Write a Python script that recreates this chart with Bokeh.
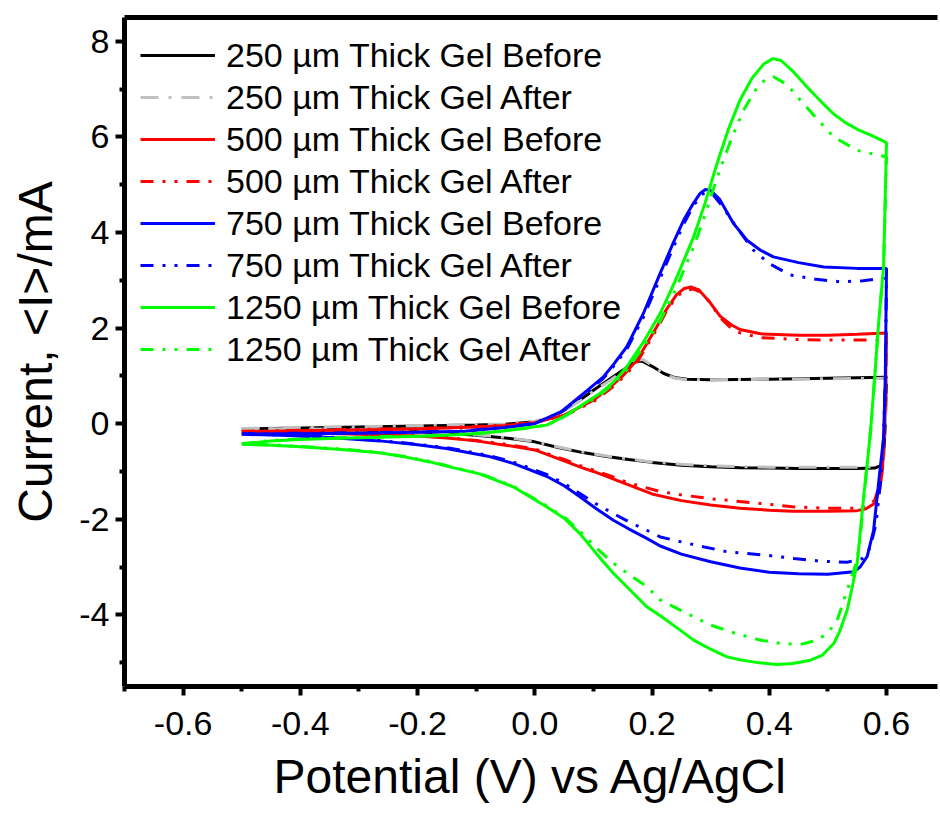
from bokeh.plotting import figure
from bokeh.models import Range1d, FixedTicker, LinearAxis, Legend, LegendItem, PrintfTickFormatter
from bokeh.embed import file_html
from bokeh.resources import INLINE

# ---------------- data ----------------
labels = ["250 µm Thick Gel Before", "250 µm Thick Gel After",
          "500 µm Thick Gel Before", "500 µm Thick Gel After",
          "750 µm Thick Gel Before", "750 µm Thick Gel After",
          "1250 µm Thick Gel Before", "1250 µm Thick Gel After"]

v_250_before = [-0.50, -0.40, -0.30, -0.20, -0.10, -0.05, 0.00, 0.03, 0.05, 0.08, 0.10, 0.13, 0.15, 0.165, 0.175, 0.185,
                0.20, 0.22, 0.24, 0.26, 0.30, 0.40, 0.50, 0.60,
                0.598, 0.595, 0.590, 0.580, 0.55, 0.50, 0.45, 0.40, 0.35, 0.30, 0.25, 0.20, 0.16, 0.12, 0.08, 0.04,
                0.00, -0.05, -0.10, -0.15, -0.20, -0.30, -0.40, -0.50]
i_250_before = [-0.11, -0.09, -0.07, -0.05, -0.03, -0.01, 0.04, 0.14, 0.28, 0.52, 0.70, 0.95, 1.12, 1.25, 1.31, 1.30,
                1.20, 1.05, 0.96, 0.93, 0.92, 0.93, 0.95, 0.97,
                0.00, -0.70, -0.88, -0.93, -0.94, -0.94, -0.94, -0.93, -0.92, -0.90, -0.87, -0.81, -0.75, -0.68, -0.60, -0.50,
                -0.38, -0.30, -0.24, -0.20, -0.17, -0.14, -0.12, -0.11]

v_250_after = v_250_before
i_250_after = [-0.10, -0.08, -0.06, -0.04, -0.02, 0.00, 0.05, 0.14, 0.27, 0.50, 0.68, 0.92, 1.10, 1.26, 1.34, 1.34,
               1.22, 1.04, 0.95, 0.92, 0.92, 0.93, 0.94, 0.95,
               0.00, -0.70, -0.86, -0.90, -0.91, -0.91, -0.91, -0.91, -0.90, -0.88, -0.85, -0.80, -0.74, -0.67, -0.59, -0.49,
               -0.37, -0.29, -0.23, -0.19, -0.16, -0.13, -0.11, -0.10]

v_500_before = [-0.50, -0.40, -0.30, -0.20, -0.10, -0.05, 0.00, 0.05, 0.10, 0.13, 0.15, 0.174, 0.19, 0.208, 0.225, 0.242,
                0.255, 0.266, 0.28, 0.30, 0.316, 0.335, 0.35, 0.385, 0.45, 0.50, 0.55, 0.60,
                0.598, 0.595, 0.593, 0.588, 0.578, 0.565, 0.55, 0.50, 0.44, 0.40, 0.35, 0.30, 0.25, 0.20, 0.16, 0.13,
                0.10, 0.08, 0.05, 0.00, -0.05, -0.10, -0.15, -0.20, -0.30, -0.40, -0.50]
i_500_before = [-0.17, -0.15, -0.13, -0.11, -0.07, -0.04, 0.02, 0.18, 0.49, 0.78, 1.00, 1.33, 1.65, 2.03, 2.40, 2.70,
                2.83, 2.86, 2.80, 2.52, 2.25, 2.07, 1.97, 1.88, 1.85, 1.85, 1.87, 1.90,
                0.50, -0.50, -0.97, -1.40, -1.68, -1.78, -1.82, -1.83, -1.83, -1.81, -1.77, -1.70, -1.61, -1.47, -1.28, -1.14,
                -1.00, -0.92, -0.78, -0.55, -0.45, -0.36, -0.30, -0.26, -0.22, -0.19, -0.17]

v_500_after = [-0.50, -0.40, -0.30, -0.20, -0.10, -0.05, 0.00, 0.05, 0.10, 0.13, 0.15, 0.174, 0.19, 0.208, 0.225, 0.242,
               0.255, 0.27, 0.285, 0.30, 0.316, 0.335, 0.35, 0.385, 0.45, 0.50, 0.55, 0.60,
               0.598, 0.595, 0.590, 0.580, 0.565, 0.55, 0.50, 0.44, 0.385, 0.35, 0.30, 0.25, 0.214, 0.16, 0.13, 0.10,
               0.08, 0.05, 0.00, -0.05, -0.10, -0.15, -0.20, -0.30, -0.40, -0.50]
i_500_after = [-0.16, -0.14, -0.12, -0.10, -0.06, -0.03, 0.03, 0.17, 0.46, 0.74, 0.96, 1.28, 1.60, 1.98, 2.36, 2.66,
               2.78, 2.82, 2.74, 2.52, 2.22, 2.00, 1.90, 1.80, 1.76, 1.75, 1.75, 1.75,
               0.50, -0.50, -1.20, -1.60, -1.74, -1.77, -1.77, -1.74, -1.67, -1.63, -1.57, -1.49, -1.42, -1.24, -1.10, -0.97,
               -0.89, -0.75, -0.53, -0.43, -0.35, -0.29, -0.25, -0.21, -0.18, -0.16]

v_750_before = [-0.50, -0.40, -0.30, -0.20, -0.12, -0.05, 0.00, 0.045, 0.065, 0.09, 0.117, 0.135, 0.157, 0.185, 0.214,
                0.235, 0.254, 0.27, 0.282, 0.291, 0.30, 0.315, 0.339, 0.362, 0.385, 0.407, 0.45, 0.493, 0.55, 0.60,
                0.598, 0.595, 0.587, 0.578, 0.567, 0.555, 0.544, 0.50, 0.45, 0.40, 0.35, 0.30, 0.25, 0.214, 0.191, 0.16,
                0.134, 0.105, 0.077, 0.05, 0.02, -0.037, -0.08, -0.151, -0.20, -0.265, -0.35, -0.42, -0.50]
i_750_before = [-0.22, -0.21, -0.20, -0.18, -0.16, -0.08, 0.00, 0.25, 0.45, 0.70, 0.98, 1.25, 1.61, 2.30, 3.15,
                3.75, 4.26, 4.60, 4.82, 4.90, 4.88, 4.70, 4.19, 3.84, 3.63, 3.49, 3.37, 3.28, 3.25, 3.25,
                1.00, -0.30, -1.18, -2.23, -2.78, -3.00, -3.10, -3.15, -3.14, -3.11, -3.02, -2.89, -2.73, -2.56, -2.40, -2.20,
                -2.02, -1.78, -1.53, -1.30, -1.10, -0.83, -0.68, -0.52, -0.44, -0.36, -0.29, -0.25, -0.22]

v_750_after = [-0.50, -0.40, -0.30, -0.20, -0.12, -0.05, 0.00, 0.045, 0.065, 0.09, 0.117, 0.135, 0.157, 0.185, 0.214,
               0.235, 0.254, 0.27, 0.285, 0.295, 0.305, 0.32, 0.339, 0.373, 0.40, 0.436, 0.48, 0.521, 0.56, 0.60,
               0.598, 0.595, 0.59, 0.582, 0.572, 0.56, 0.533, 0.49, 0.442, 0.40, 0.328, 0.27, 0.214, 0.191, 0.16,
               0.134, 0.105, 0.077, 0.05, 0.02, -0.037, -0.08, -0.151, -0.20, -0.265, -0.35, -0.42, -0.50]
i_750_after = [-0.21, -0.20, -0.19, -0.17, -0.15, -0.07, 0.01, 0.24, 0.43, 0.67, 0.95, 1.21, 1.56, 2.22, 3.05,
               3.65, 4.18, 4.55, 4.80, 4.85, 4.78, 4.55, 4.20, 3.63, 3.35, 3.11, 3.02, 2.97, 2.99, 3.05,
               1.00, -0.30, -1.20, -2.10, -2.60, -2.82, -2.90, -2.88, -2.82, -2.76, -2.68, -2.53, -2.37, -2.23, -2.05,
               -1.88, -1.68, -1.46, -1.25, -1.06, -0.80, -0.66, -0.50, -0.43, -0.35, -0.28, -0.24, -0.21]

v_1250_before = [-0.50, -0.45, -0.40, -0.35, -0.25, -0.18, -0.10, -0.065, -0.02, 0.02, 0.045, 0.075, 0.111, 0.135, 0.157,
                 0.185, 0.214, 0.24, 0.271, 0.29, 0.311, 0.33, 0.35, 0.37, 0.39, 0.406, 0.42, 0.44, 0.464, 0.49, 0.51,
                 0.53, 0.55, 0.575, 0.60,
                 0.595, 0.587, 0.58, 0.573, 0.567, 0.561, 0.555, 0.55, 0.541, 0.533, 0.52, 0.51, 0.49, 0.47, 0.44, 0.413,
                 0.38, 0.35, 0.328, 0.30, 0.271, 0.248, 0.214, 0.191, 0.16, 0.134, 0.105, 0.077, 0.05, 0.02, -0.037,
                 -0.094, -0.14, -0.179, -0.22, -0.265, -0.33, -0.407, -0.45, -0.50]
i_1250_before = [-0.43, -0.36, -0.33, -0.31, -0.28, -0.26, -0.21, -0.17, -0.10, -0.03, 0.12, 0.35, 0.63, 0.88, 1.19,
                 1.70, 2.31, 3.00, 3.91, 4.60, 5.45, 6.15, 6.77, 7.22, 7.52, 7.64, 7.60, 7.38, 7.05, 6.72, 6.48,
                 6.30, 6.16, 6.03, 5.88,
                 3.28, 2.17, 1.00, -0.13, -0.85, -1.53, -2.30, -2.92, -3.45, -3.90, -4.35, -4.60, -4.85, -4.95, -5.02, -5.04,
                 -5.00, -4.94, -4.88, -4.72, -4.53, -4.32, -4.02, -3.83, -3.45, -3.13, -2.72, -2.30, -1.98, -1.74, -1.32,
                 -1.05, -0.92, -0.80, -0.70, -0.61, -0.54, -0.48, -0.45, -0.43]

v_1250_after = [-0.50, -0.45, -0.40, -0.35, -0.25, -0.18, -0.10, -0.065, -0.02, 0.02, 0.045, 0.075, 0.111, 0.135, 0.157,
                0.185, 0.214, 0.24, 0.271, 0.29, 0.311, 0.335, 0.356, 0.38, 0.395, 0.407, 0.43, 0.453, 0.48, 0.51,
                0.55, 0.60,
                0.595, 0.587, 0.58, 0.573, 0.567, 0.561, 0.555, 0.55, 0.533, 0.516, 0.50, 0.482, 0.453, 0.42, 0.385,
                0.34, 0.299, 0.248, 0.214, 0.191, 0.16, 0.134, 0.105, 0.077, 0.05, 0.02, -0.037,
                -0.094, -0.14, -0.179, -0.22, -0.265, -0.33, -0.407, -0.45, -0.50]
i_1250_after = [-0.42, -0.35, -0.32, -0.30, -0.27, -0.25, -0.20, -0.16, -0.10, -0.03, 0.11, 0.33, 0.60, 0.84, 1.13,
                1.60, 2.15, 2.80, 3.70, 4.35, 5.15, 5.95, 6.56, 7.05, 7.22, 7.26, 7.10, 6.77, 6.40, 6.00,
                5.72, 5.58,
                3.28, 2.17, 1.00, -0.13, -0.85, -1.60, -2.40, -2.85, -3.48, -4.11, -4.38, -4.53, -4.62, -4.60, -4.53,
                -4.38, -4.21, -3.90, -3.69, -3.41, -3.15, -2.92, -2.60, -2.25, -1.95, -1.72, -1.31,
                -1.04, -0.91, -0.79, -0.69, -0.60, -0.53, -0.47, -0.44, -0.42]

x_ticks = [-0.6, -0.4, -0.2, 0.0, 0.2, 0.4, 0.6]
x_minor = [-0.7, -0.5, -0.3, -0.1, 0.1, 0.3, 0.5]
y_ticks = [-4, -2, 0, 2, 4, 6, 8]
y_minor = [-5, -3, -1, 1, 3, 5, 7]

series = [
    (v_250_before, i_250_before, "#000000", "solid"),
    (v_250_after, i_250_after, "#C0C0C0", "18 10 3 10"),
    (v_500_before, i_500_before, "#FF0000", "solid"),
    (v_500_after, i_500_after, "#FF0000", "13 9 3 9 3 9"),
    (v_750_before, i_750_before, "#0000FF", "solid"),
    (v_750_after, i_750_after, "#0000FF", "13 9 3 9 3 9"),
    (v_1250_before, i_1250_before, "#00FF00", "solid"),
    (v_1250_after, i_1250_after, "#00FF00", "13 9 3 9 3 9"),
]

FONT = "Liberation Sans"

p = figure(width=940, height=814, output_backend="svg", toolbar_location=None,
           x_range=Range1d(-0.7, 0.687), y_range=Range1d(-5.5, 8.5),
           min_border_left=124, min_border_right=3, min_border_top=17, min_border_bottom=128,
           background_fill_color="white", border_fill_color="white")
p.outline_line_color = None
p.xgrid.visible = False
p.ygrid.visible = False

p.xaxis.ticker = FixedTicker(ticks=x_ticks, minor_ticks=x_minor)
p.yaxis.ticker = FixedTicker(ticks=y_ticks, minor_ticks=y_minor)
p.xaxis.formatter = PrintfTickFormatter(format="%.1f")
p.yaxis.formatter = PrintfTickFormatter(format="%d")
p.xaxis.axis_label = "Potential (V) vs Ag/AgCl"
p.yaxis.axis_label = "Current, <I>/mA"

for ax in (p.xaxis[0], p.yaxis[0]):
    ax.axis_line_width = 5
    ax.axis_line_color = "black"
    ax.major_tick_line_width = 4
    ax.minor_tick_line_width = 4
    ax.major_tick_out = 9
    ax.major_tick_in = 0
    ax.minor_tick_out = 5
    ax.minor_tick_in = 0
    ax.major_label_text_font = FONT
    ax.major_label_text_font_size = "34px"
    ax.major_label_text_color = "black"
    ax.axis_label_text_font = FONT
    ax.axis_label_text_font_size = "48px"
    ax.axis_label_text_font_style = "normal"
    ax.axis_label_text_color = "black"
p.xaxis.major_label_standoff = 16
p.xaxis.axis_label_standoff = 12
p.yaxis.major_label_standoff = 6
p.yaxis.axis_label_standoff = 14

top = LinearAxis(ticker=FixedTicker(ticks=[]), axis_line_width=5, axis_line_color="black",
                 major_tick_line_color=None, minor_tick_line_color=None,
                 major_label_text_font_size="0px")
p.add_layout(top, "above")

items = []
for (vx, iy, col, dash), lab in zip(series, labels):
    r = p.line(vx, iy, line_color=col, line_width=3, line_dash=dash)
    items.append(LegendItem(label=lab, renderers=[r]))

legend = Legend(items=items, location=(16, 316), glyph_width=75, glyph_height=42, label_height=42,
                spacing=0, padding=0, margin=0, label_standoff=11,
                label_text_font=FONT, label_text_font_size="34px", label_text_color="black",
                background_fill_alpha=0, border_line_alpha=0)
p.add_layout(legend)

open("out.html", "w").write(file_html(p, INLINE))
